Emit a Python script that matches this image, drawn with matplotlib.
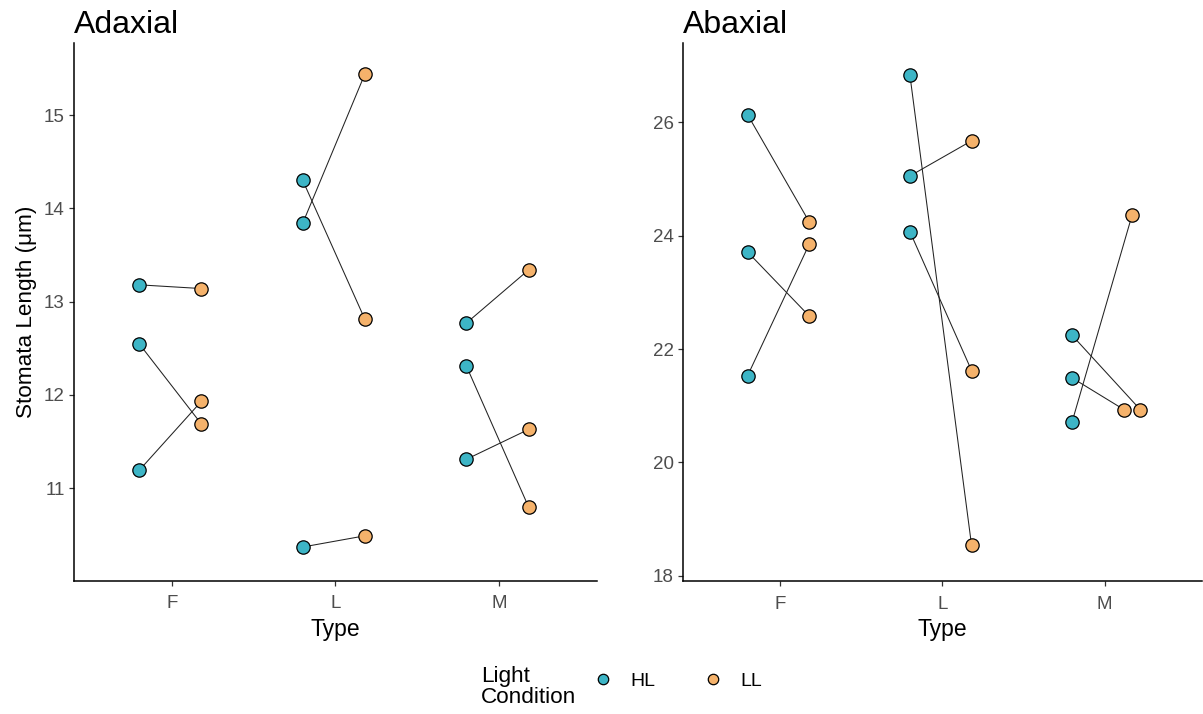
import matplotlib
matplotlib.use('Agg')
import matplotlib.pyplot as plt
from matplotlib.lines import Line2D

plt.rcParams['font.family'] = ['Liberation Sans', 'DejaVu Sans']

types = ['F', 'L', 'M']
conditions = ['HL', 'LL']

# Adaxial panel: each entry is one HL -> LL pair
adaxial_type = ['F', 'F', 'F', 'L', 'L', 'L', 'M', 'M', 'M']
adaxial_hl = [13.18, 12.55, 11.19, 14.30, 13.84, 10.37, 12.77, 12.31, 11.31]
adaxial_ll = [13.14, 11.69, 11.93, 12.81, 15.44, 10.49, 13.34, 10.80, 11.63]
adaxial_ll_jitter = [0, 0, 0, 0, 0, 0, 0, 0, 0]

# Abaxial panel
abaxial_type = ['F', 'F', 'F', 'L', 'L', 'L', 'M', 'M', 'M']
abaxial_hl = [26.13, 23.71, 21.53, 26.83, 25.05, 24.07, 22.24, 21.49, 20.72]
abaxial_ll = [24.24, 22.58, 23.85, 18.54, 25.67, 21.62, 20.93, 20.93, 24.37]
abaxial_ll_jitter = [0, 0, 0, 0, 0, 0, 0.04, -0.06, -0.01]

colors = {'HL': '#3DB5C6', 'LL': '#F5B26B'}
hl_offset = -0.2
ll_offset = 0.18

W, H = 1203, 714
fig = plt.figure(figsize=(W / 100, H / 100), dpi=100)

def px_axes(x0, y0, x1, y1):
    return fig.add_axes([x0 / W, 1 - y1 / H, (x1 - x0) / W, (y1 - y0) / H])

ax1 = px_axes(73.6, 42.7, 597.3, 580.5)
ax2 = px_axes(682.7, 42.7, 1202, 581)

def draw(ax, tlist, hl, ll, jit, ylim, yticks, title):
    idx = {t: i + 1 for i, t in enumerate(types)}
    for t, h, l, j in zip(tlist, hl, ll, jit):
        xh = idx[t] + hl_offset
        xl = idx[t] + ll_offset + j
        ax.plot([xh, xl], [h, l], color='#222222', lw=0.75, zorder=1)
        ax.plot([xh], [h], 'o', ms=9.6, mfc=colors['HL'], mec='black', mew=0.9, zorder=2)
        ax.plot([xl], [l], 'o', ms=9.6, mfc=colors['LL'], mec='black', mew=0.9, zorder=2)
    ax.set_xlim(0.4, 3.6)
    ax.set_ylim(*ylim)
    ax.set_xticks(range(1, len(types) + 1))
    ax.set_xticklabels(types)
    ax.set_yticks(yticks)
    ax.set_yticklabels([str(v) for v in yticks])
    for s in ['top', 'right']:
        ax.spines[s].set_visible(False)
    for s in ['left', 'bottom']:
        ax.spines[s].set_linewidth(1.1)
        ax.spines[s].set_color('black')
    ax.tick_params(axis='both', length=3.5, width=0.9, color='#333333',
                   labelcolor='#4D4D4D', labelsize=13.5)
    ax.tick_params(axis='x', pad=7)
    ax.tick_params(axis='y', pad=3)
    ax.set_xlabel('Type', fontsize=16.5, color='black', labelpad=4)
    ax.set_title(title, loc='left', fontsize=23, pad=7, color='black')

draw(ax1, adaxial_type, adaxial_hl, adaxial_ll, adaxial_ll_jitter,
     (10.011, 15.775), [11, 12, 13, 14, 15], 'Adaxial')
draw(ax2, abaxial_type, abaxial_hl, abaxial_ll, abaxial_ll_jitter,
     (17.91, 27.40), [18, 20, 22, 24, 26], 'Abaxial')

ax1.set_ylabel('Stomata Length (μm)', fontsize=16.2, color='black', labelpad=5)

# legend
fig.text(481 / W, 1 - 687 / H, 'Light\nCondition', fontsize=16.2, ha='left', va='center',
         linespacing=1.05)
handles = [Line2D([], [], marker='o', ls='none', ms=7.5, mfc=colors[c], mec='black', mew=0.9)
           for c in conditions]
fig.legend(handles, conditions, loc='center left', bbox_to_anchor=(593 / W, 1 - 681 / H),
           ncol=2, frameon=False, fontsize=14, handlelength=1.0, handletextpad=0.9,
           columnspacing=2.5, borderpad=0, borderaxespad=0)

fig.savefig('out.png', dpi=100)
